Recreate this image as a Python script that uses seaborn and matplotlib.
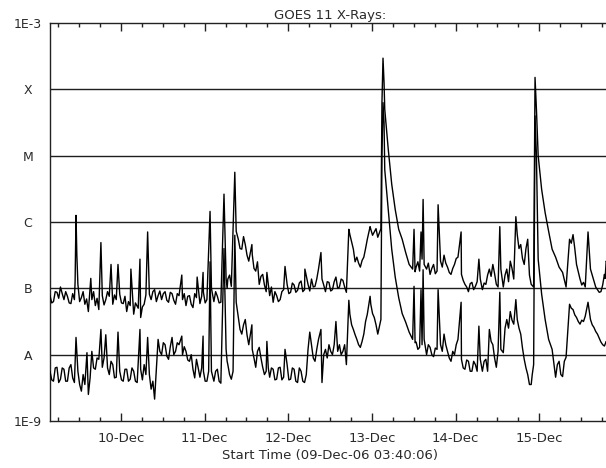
import matplotlib
matplotlib.use("Agg")
import matplotlib.pyplot as plt
import matplotlib.dates as mdates
from matplotlib.ticker import NullLocator
import numpy as np
import pandas as pd
import seaborn as sns

# ---------------- data ----------------
start_time = pd.Timestamp("2006-12-09 03:40:06")

# GOES 11 long channel (1-8 A): hours since start, log10 flux (W/m^2)
long_hours = [0, 1, 2, 3, 4, 5, 6, 7, 7.2, 7.46, 7.7, 8, 9, 10, 11, 11.7, 12, 13, 14, 14.6,
              15, 16, 17, 17.5, 18, 19, 19.5, 20, 21, 22, 23, 23.2, 24, 25, 25.8, 26, 27, 28,
              28.5, 29, 30, 31, 32, 33, 34, 35, 36, 37, 37.8, 38, 39, 40, 41, 42, 42.2, 43,
              43.9, 44, 45, 45.9, 46.3, 47, 48, 49, 49.9, 50.5, 51, 52, 53.0, 53.4, 54, 55,
              56, 57, 57.9, 58, 59, 60, 61, 62, 62.2, 63, 64, 65, 66, 67, 67.4, 68, 69, 70,
              71, 72, 73, 73.1, 74, 75, 76, 77, 77.7, 78, 79, 80, 81, 82, 83, 84, 85, 85.7,
              86, 87, 88, 89, 90, 91, 91.8, 92, 93, 94, 94.9, 95.2, 95.5, 95.8, 96, 97, 98,
              99, 100, 101, 102, 103, 104, 104.4, 105, 106, 106.4, 106.7, 107.0, 107.3, 108,
              109, 110, 111, 111.3, 112, 113, 114, 115, 116, 117, 117.9, 118, 119, 120, 121,
              122, 123.0, 123.4, 124, 125, 126, 127, 128, 129.0, 129.3, 130, 131, 132, 133,
              133.6, 134, 135, 136, 137, 138, 138.7, 139.1, 139.5, 140, 141, 142, 143, 144,
              145, 146, 147, 148, 149, 150, 151, 152, 153, 154.3, 155, 156, 157, 158, 159,
              159.5, 160.5]
long_logflux = [-7.11, -7.20, -7.06, -6.98, -7.17, -7.12, -7.23, -7.17, -6.90, -5.90, -6.50,
                -6.94, -7.14, -7.24, -7.35, -6.85, -7.17, -7.26, -7.32, -6.31,
                -7.11, -7.17, -7.12, -6.64, -7.24, -7.17, -6.64, -7.09, -7.23, -7.35, -7.26,
                -6.71, -7.39, -7.27, -6.56, -7.44, -7.24, -6.15,
                -7.09, -7.17, -7.02, -7.11, -7.17, -7.05, -7.21, -7.08, -7.24, -7.11, -6.80,
                -7.17, -7.26, -7.11, -7.29, -7.14, -6.83, -7.23,
                -6.76, -7.06, -7.17, -5.84, -7.00, -7.20, -7.12, -7.21, -5.58, -6.85, -6.86,
                -6.97, -5.25, -6.14, -6.26, -6.41,
                -6.34, -6.59, -6.34, -6.49, -6.74, -6.94, -6.79, -7.05, -6.76, -7.11, -7.21,
                -7.11, -7.17, -7.02, -6.67, -6.94, -7.06, -6.95,
                -7.03, -6.89, -7.02, -6.71, -6.94, -6.86, -6.97, -6.71, -6.46, -6.86, -7.05,
                -6.91, -7.02, -6.83, -6.98, -6.88, -7.06, -6.11,
                -6.19, -6.41, -6.53, -6.68, -6.53, -6.26, -6.07, -6.11, -6.15, -6.23, -6.10,
                -4.20, -3.53, -3.90, -4.30, -4.90, -5.43,
                -5.81, -6.11, -6.26, -6.46, -6.64, -6.71, -6.11, -6.68, -6.74, -6.15, -6.56,
                -5.66, -6.64, -6.71,
                -6.79, -6.64, -6.74, -5.74, -6.59, -6.50, -6.68, -6.79, -6.64, -6.53, -6.15,
                -6.79, -6.94, -7.05, -6.91,
                -6.97, -6.56, -6.86, -7.02, -6.94, -6.71, -6.64, -6.94, -6.07, -6.71, -6.98,
                -6.71, -6.59, -6.86,
                -5.92, -6.19, -6.34, -6.64, -6.26, -6.94, -6.98, -3.82, -4.30, -5.00, -5.51,
                -5.86, -6.14, -6.41,
                -6.53, -6.68, -6.76, -6.98, -6.26, -6.19, -6.64, -6.86, -6.91, -6.15, -6.71,
                -6.89, -7.02, -7.05, -6.79,
                -6.59, -6.70]

# extra readings of the long channel's noise band (other edge of the band)
long_hours_band = [0.5, 1.5, 2.5, 3.5, 4.5, 5.5, 6.5, 8.5, 9.5, 10.5, 12.5, 13.5, 15.5, 16.5,
                   18.5, 20.5, 21.5, 22.5, 24.5, 25.3, 26.5, 27.5, 29.5, 30.5, 31.5, 32.5,
                   33.5, 34.5, 35.5, 36.5, 38.5, 39.5, 40.5, 41.5, 43.5, 44.5, 47.5, 48.5,
                   50.8, 51.5, 54.5, 55.5, 56.5, 58.5, 59.5, 60.5, 61.5, 63.5, 64.5, 65.5,
                   66.5, 68.5, 69.5, 70.5, 71.5, 72.5, 74.5, 75.5, 76.5, 78.5, 79.5, 80.5,
                   81.5, 82.5, 83.5, 84.5, 86.5, 87.5, 88.5, 89.5, 90.5, 92.5, 93.5, 104.7,
                   105.5, 108.5, 109.5, 110.5, 112.5, 113.5, 114.5, 115.5, 116.5, 118.5,
                   119.5, 120.5, 121.5, 122.5, 124.5, 125.5, 126.5, 127.5, 128.5, 130.5,
                   131.5, 132.5, 134.5, 135.5, 136.5, 137.5, 149.5, 150.5, 151.5, 152.5,
                   153.5, 155.5, 156.5, 157.5, 158.5, 159.2]
long_logflux_band = [-7.22, -7.05, -7.15, -7.08, -7.05, -7.22, -7.08, -7.20, -7.05, -7.16,
                     -7.05, -7.15, -7.25, -7.05, -7.10, -7.22, -7.12, -7.20, -7.22, -7.30,
                     -7.28, -7.10, -7.05, -7.20, -7.04, -7.08, -7.18, -7.06, -7.18, -7.08,
                     -7.08, -7.12, -7.24, -7.08, -7.12, -7.22, -7.05, -7.22, -7.00, -6.80,
                     -6.40, -6.22, -6.50, -6.70, -6.60, -6.82, -6.95, -6.98, -7.05, -7.20,
                     -7.05, -7.08, -6.92, -7.06, -6.92, -7.05, -7.04, -6.98, -6.86, -6.95,
                     -6.90, -7.04, -6.90, -7.00, -6.86, -6.98, -6.30, -6.60, -6.62, -6.58,
                     -6.40, -6.20, -6.10, -6.75, -6.60, -6.62, -6.70, -6.78, -6.68, -6.62,
                     -6.76, -6.70, -6.55, -6.88, -6.98, -6.93, -7.02, -6.90, -6.92, -6.80,
                     -6.82, -6.78, -6.98, -6.80, -6.90, -6.70, -6.40, -6.55, -6.40, -6.80,
                     -6.32, -6.40, -6.75, -6.95, -6.98, -6.80, -6.98, -7.06, -6.95, -6.85]

# GOES 11 short channel (0.5-4 A): hours since start, log10 flux (W/m^2)
short_hours = [0, 1, 2, 3, 4, 5, 6, 7, 7.46, 8, 9, 10, 10.6, 11, 12, 13, 14, 14.6, 15, 16,
               17, 18, 19, 19.5, 20, 21, 22, 23, 24, 25, 25.8, 26, 27, 28, 28.5, 29, 30, 31,
               32, 33, 34, 35, 36, 37, 37.8, 38, 39, 40, 41, 42, 43, 43.9, 44, 45, 45.9, 46.3,
               47, 48, 49, 49.9, 50.5, 51, 52, 53.0, 53.4, 54, 55, 56, 57, 57.9, 58, 59, 60,
               61, 62, 62.2, 63, 64, 65, 66, 67, 67.4, 68, 69, 70, 71, 72, 73, 74, 74.5, 75,
               76, 77, 77.7, 78, 79, 80, 81, 82, 83, 84, 85, 85.7, 86, 87, 88, 89, 90, 91,
               91.8, 92, 93, 94, 94.9, 95.2, 95.5, 95.8, 96, 97, 98, 99, 100, 101, 102, 103,
               104, 104.4, 105, 106, 106.4, 106.7, 107.0, 107.3, 108, 109, 110, 111, 111.3,
               112, 113, 114, 115, 116, 117, 117.9, 118, 119, 120, 121, 122, 123.0, 123.4,
               124, 125, 126, 127, 128, 129.0, 129.3, 130, 131, 132, 133, 133.6, 134, 135,
               136, 137, 138, 138.7, 139.1, 139.5, 140, 141, 142, 143, 144, 145, 146, 147,
               148, 149, 150, 151, 152, 153, 154.3, 155, 156, 157, 158, 159, 160.5]
short_logflux = [-8.25, -8.40, -8.19, -8.37, -8.22, -8.40, -8.15, -8.42, -7.74, -8.25, -8.55,
                 -8.45, -7.97, -8.60, -7.95, -8.22, -8.07, -7.62, -8.19, -7.70,
                 -8.30, -8.15, -8.34, -7.66, -8.25, -8.40, -8.22, -8.37, -8.25, -8.42, -7.62,
                 -8.22, -8.15, -7.74, -8.30, -8.52, -8.67, -7.77,
                 -8.00, -7.85, -8.07, -7.74, -7.95, -7.85, -7.72, -8.00, -7.95, -8.10, -8.22,
                 -8.07, -8.34, -7.72, -8.25, -8.40, -6.60, -8.25,
                 -8.40, -8.22, -8.43, -6.40, -7.92, -8.15, -8.37, -6.20, -7.21, -7.44, -7.69,
                 -7.47, -7.85, -7.55, -7.92, -8.19, -7.89,
                 -8.19, -8.25, -7.80, -8.34, -8.22, -8.37, -8.19, -8.34, -7.92, -8.15, -8.37,
                 -8.22, -8.42, -8.25, -8.42, -7.92, -7.66, -7.85,
                 -8.10, -7.77, -7.62, -8.42, -7.92, -7.85, -8.00, -7.50, -7.85, -7.95, -8.15,
                 -7.18, -7.39, -7.62, -7.77, -7.89, -7.69, -7.39,
                 -7.12, -7.24, -7.44, -7.69, -7.47, -5.00, -4.20, -4.50, -5.21, -5.81, -6.41,
                 -6.83, -7.14, -7.38, -7.51, -7.66,
                 -7.77, -6.97, -7.81, -7.89, -7.02, -7.85, -6.72, -7.77, -8.00, -7.89, -8.03,
                 -7.92, -7.02,
                 -7.85, -7.69, -7.95, -8.10, -8.00, -7.77, -7.21, -8.07, -8.22, -8.10, -8.25,
                 -8.15, -7.57, -8.07,
                 -8.25, -8.07, -7.62, -7.85, -8.19, -7.06, -7.92, -7.97, -7.47, -7.35, -7.54,
                 -7.17, -7.47, -7.69,
                 -8.07, -8.30, -8.45, -8.15, -4.40, -5.00, -6.56, -7.09, -7.47, -7.77, -7.92,
                 -8.34, -8.10, -8.33,
                 -8.04, -7.24, -7.32, -7.44, -7.54, -7.50, -7.21, -7.47, -7.59, -7.69, -7.81,
                 -7.87, -7.85]

# extra readings of the short channel's noise band (other edge of the band)
short_hours_band = [0.5, 1.5, 2.5, 3.5, 4.5, 5.5, 6.5, 8.5, 9.5, 11.5, 12.5, 13.5, 15.5, 16.5,
                    17.5, 18.5, 20.5, 21.5, 22.5, 23.5, 24.5, 26.5, 27.5, 29.5, 31.5, 32.5,
                    33.5, 34.5, 35.5, 36.5, 38.5, 39.5, 40.5, 41.5, 42.5, 43.5, 44.5, 45.5,
                    47.5, 48.5, 50.8, 51.5, 52.5, 54.5, 55.5, 56.5, 58.5, 59.5, 60.5, 61.5,
                    62.6, 63.5, 64.5, 65.5, 66.5, 68.5, 69.5, 70.5, 71.5, 72.5, 73.5, 75.5,
                    76.5, 78.5, 79.5, 80.5, 81.5, 82.5, 83.5, 84.5, 86.5, 87.5, 88.5, 89.5,
                    90.5, 92.5, 93.5, 104.7, 105.5, 108.5, 109.5, 110.5, 112.5, 113.5, 114.5,
                    115.5, 116.5, 118.5, 119.5, 120.5, 121.5, 122.5, 124.5, 125.5, 126.5,
                    127.5, 128.5, 130.5, 131.5, 132.5, 134.5, 135.5, 136.5, 137.5, 138.3,
                    145.5, 146.5, 147.5, 149.5, 150.5, 151.5, 152.5, 153.5, 155.5, 156.5,
                    157.5, 158.5, 159.5]
short_logflux_band = [-8.38, -8.20, -8.42, -8.20, -8.40, -8.20, -8.35, -8.45, -8.30, -8.35,
                      -8.20, -8.05, -8.05, -8.20, -8.10, -8.35, -8.38, -8.22, -8.40, -8.20,
                      -8.40, -8.38, -8.30, -8.40, -7.95, -7.82, -8.02, -7.88, -8.00, -7.82,
                      -7.88, -8.08, -8.00, -8.35, -8.20, -8.20, -8.40, -8.25, -8.25, -8.40,
                      -8.10, -8.30, -8.25, -7.62, -7.55, -7.70, -8.05, -7.95, -8.05, -8.30,
                      -8.20, -8.20, -8.38, -8.20, -8.38, -8.38, -8.20, -8.40, -8.20, -8.40,
                      -8.30, -8.05, -7.92, -8.00, -8.05, -7.95, -7.85, -7.95, -8.00, -7.85,
                      -7.55, -7.70, -7.85, -7.80, -7.50, -7.38, -7.55, -7.82, -7.92, -7.85,
                      -8.00, -7.90, -7.95, -7.85, -8.05, -7.95, -7.85, -8.20, -8.08, -8.25,
                      -8.10, -8.25, -8.10, -8.25, -7.80, -8.05, -7.95, -7.60, -7.60, -7.48,
                      -7.60, -7.90, -8.20, -8.45, -8.30, -8.15, -8.30, -8.10, -7.30, -7.40,
                      -7.50, -7.48, -7.42, -7.55, -7.65, -7.75, -7.85, -7.80]

class_levels = [1e-9, 1e-8, 1e-7, 1e-6, 1e-5, 1e-4, 1e-3]
class_labels = ["1E-9", "A", "B", "C", "M", "X", "1E-3"]
title_text = "GOES 11 X-Rays:"
xlabel_text = "Start Time (09-Dec-06 03:40:06)"
x_span_hours = 160.6


# ---------------- build table ----------------
def channel_frame(hours, logflux, name):
    return pd.DataFrame({
        "time": start_time + pd.to_timedelta(hours, unit="h"),
        "flux": np.power(10.0, logflux),
        "channel": name,
    })


df = pd.concat([
    channel_frame(long_hours, long_logflux, "long"),
    channel_frame(long_hours_band, long_logflux_band, "long"),
    channel_frame(short_hours, short_logflux, "short"),
    channel_frame(short_hours_band, short_logflux_band, "short"),
], ignore_index=True).sort_values(["channel", "time"], kind="mergesort")

# ---------------- plot ----------------
sns.set_style("white")
plt.rcParams["font.family"] = ["DejaVu Sans"]
plt.rcParams.update({
    "axes.axisbelow": False,
    "xtick.bottom": True, "xtick.top": True, "xtick.direction": "in",
    "xtick.major.size": 6, "xtick.minor.size": 3,
    "xtick.major.width": 1, "xtick.minor.width": 1,
    "xtick.color": "#222222",
})
text_color = "#2a2a2a"

fig = plt.figure(figsize=(6.06, 4.68), dpi=100)
ax = fig.add_axes([50 / 606, 47 / 468, 560 / 606, 398 / 468])

for lvl in class_levels[1:-1]:
    ax.axhline(lvl, color="#1e1e1e", lw=1.0, zorder=1)

sns.lineplot(data=df, x="time", y="flux", units="channel", estimator=None, sort=False,
             color="black", lw=1.0, ax=ax, legend=False, zorder=3)

ax.set_yscale("log")
ax.set_ylim(1e-9, 1e-3)
ax.set_yticks(class_levels)
ax.set_yticklabels(class_labels)
ax.yaxis.set_minor_locator(NullLocator())
ax.tick_params(axis="y", left=False, right=False, length=0, pad=16, labelsize=9,
               labelcolor=text_color)
for lab in ax.get_yticklabels():
    lab.set_horizontalalignment("center")

ax.set_xlim(start_time, start_time + pd.Timedelta(hours=x_span_hours))
ax.xaxis.set_major_locator(mdates.DayLocator())
ax.xaxis.set_major_formatter(mdates.DateFormatter("%d-%b"))
ax.xaxis.set_minor_locator(mdates.HourLocator(byhour=[6, 12, 18]))
ax.xaxis.set_tick_params(which="major", direction="in", bottom=True, top=True, length=6,
                         width=1, pad=8, labelsize=9.5, labelcolor=text_color,
                         color="#222222")
ax.xaxis.set_tick_params(which="minor", direction="in", bottom=True, top=True, length=3,
                         width=1, color="#222222")
ax.set_axisbelow(False)
ax.xaxis.set_zorder(5)
for tk in ax.xaxis.get_major_ticks() + ax.xaxis.get_minor_ticks():
    tk.tick1line.set_visible(True)
    tk.tick2line.set_visible(True)

for side in ["left", "bottom", "top", "right"]:
    ax.spines[side].set_color("#222222")
    ax.spines[side].set_linewidth(1.0)

ax.set_xlabel(xlabel_text, fontsize=9.5, color=text_color, labelpad=3)
ax.set_ylabel("")
ax.set_title(title_text, fontsize=9.5, color=text_color, pad=3)

fig.savefig("out.png", dpi=100)
